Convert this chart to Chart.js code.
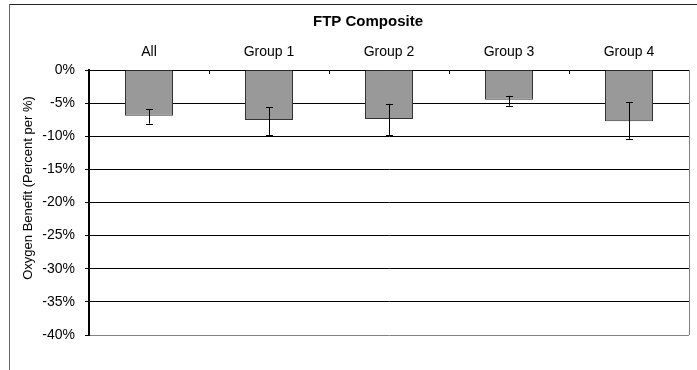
<!DOCTYPE html>
<html>
<head>
<meta charset="utf-8">
<script src="https://cdn.jsdelivr.net/npm/chart.js@4/dist/chart.umd.min.js"></script>
<style>
html,body{margin:0;padding:0;background:#fff;}
#wrap{width:697px;height:370px;position:relative;}
</style>
</head>
<body>
<div id="wrap"><canvas id="c" width="697" height="370"></canvas></div>
<script>
const chartTitle = 'FTP Composite';
const yAxisTitle = 'Oxygen Benefit (Percent per %)';
const categories = ['All', 'Group 1', 'Group 2', 'Group 3', 'Group 4'];
const values = [-6.9, -7.55, -7.4, -4.5, -7.75];
const errHigh = [-5.9, -5.6, -5.1, -3.9, -4.9];
const errLow = [-8.1, -9.8, -9.8, -5.4, -10.4];
const yMin = -40, yMax = 0, yStep = 5;

const FONT = "'Liberation Sans', Arial, sans-serif";

const decorPlugin = {
  id: 'decor',
  beforeDraw(chart) {
    const ctx = chart.ctx;
    ctx.save();
    ctx.fillStyle = '#fff';
    ctx.fillRect(0, 0, chart.width, chart.height);
    ctx.restore();
  },
  afterDatasetsDraw(chart) {
    const ctx = chart.ctx;
    const meta = chart.getDatasetMeta(0);
    const ys = chart.scales.y;
    ctx.save();
    ctx.strokeStyle = '#000';
    ctx.lineWidth = 1;
    meta.data.forEach((bar, i) => {
      const x = Math.round(bar.x) + 0.5;
      const y1 = ys.getPixelForValue(errHigh[i]);
      const y2 = ys.getPixelForValue(errLow[i]);
      ctx.beginPath();
      ctx.moveTo(x, y1); ctx.lineTo(x, y2);
      ctx.moveTo(x - 3.5, Math.round(y1) + 0.5); ctx.lineTo(x + 3.5, Math.round(y1) + 0.5);
      ctx.moveTo(x - 3.5, Math.round(y2) + 0.5); ctx.lineTo(x + 3.5, Math.round(y2) + 0.5);
      ctx.stroke();
    });
    ctx.restore();
  },
  afterDraw(chart) {
    const ctx = chart.ctx;
    const a = chart.chartArea;
    const xs = chart.scales.x;
    ctx.save();
    // right plot border
    ctx.strokeStyle = '#808080';
    ctx.lineWidth = 1;
    ctx.beginPath();
    ctx.moveTo(Math.round(a.right) + 0.5, a.top);
    ctx.lineTo(Math.round(a.right) + 0.5, a.bottom);
    ctx.stroke();
    // inward ticks at category boundaries on top axis
    ctx.strokeStyle = '#000';
    ctx.beginPath();
    for (let i = 0; i < categories.length - 1; i++) {
      const x = Math.round((xs.getPixelForValue(i) + xs.getPixelForValue(i + 1)) / 2) + 0.5;
      ctx.moveTo(x, a.top); ctx.lineTo(x, a.top + 4);
    }
    ctx.stroke();
    // outer frame
    ctx.strokeStyle = '#222';
    ctx.beginPath();
    ctx.moveTo(9, 4.5); ctx.lineTo(chart.width, 4.5);
    ctx.stroke();
    ctx.strokeStyle = '#666';
    ctx.beginPath();
    ctx.moveTo(9.5, 4); ctx.lineTo(9.5, chart.height);
    ctx.stroke();
    // title
    ctx.fillStyle = '#000';
    ctx.font = 'bold 15px ' + FONT;
    ctx.textAlign = 'center';
    ctx.textBaseline = 'middle';
    ctx.fillText(chartTitle, 368, 22);
    // y axis title
    ctx.font = '13px ' + FONT;
    ctx.translate(28.5, 188);
    ctx.rotate(-Math.PI / 2);
    ctx.fillText(yAxisTitle, 0, 0);
    ctx.restore();
  }
};

new Chart(document.getElementById('c'), {
  type: 'bar',
  data: {
    labels: categories,
    datasets: [{
      data: values,
      backgroundColor: '#999999',
      borderColor: '#333333',
      borderWidth: 1,
      borderSkipped: 'start',
      barPercentage: 0.4,
      categoryPercentage: 1.0
    }]
  },
  options: {
    responsive: false,
    animation: false,
    devicePixelRatio: 1,
    layout: { padding: { left: 0, right: 8, top: 0, bottom: 35 } },
    plugins: {
      legend: { display: false },
      title: { display: false },
      tooltip: { enabled: false }
    },
    scales: {
      x: {
        position: 'top',
        offset: true,
        grid: { display: false, drawTicks: false },
        border: { display: true, color: '#000', width: 1 },
        ticks: { color: '#000', font: { family: FONT, size: 14 }, padding: 9, maxRotation: 0 },
        afterFit(s) { s.height = 70; }
      },
      y: {
        min: yMin,
        max: yMax,
        grid: {
          color: ctx => (ctx.tick && ctx.tick.value === yMin) ? '#808080' : '#000',
          lineWidth: 1,
          tickLength: 4,
          tickColor: '#000'
        },
        border: { display: true, color: '#000', width: 2 },
        ticks: {
          stepSize: yStep,
          color: '#000',
          padding: 10,
          font: { family: FONT, size: 14 },
          callback: v => v + '%'
        },
        afterFit(s) { s.width = 89; }
      }
    }
  },
  plugins: [decorPlugin]
});
</script>
</body>
</html>
